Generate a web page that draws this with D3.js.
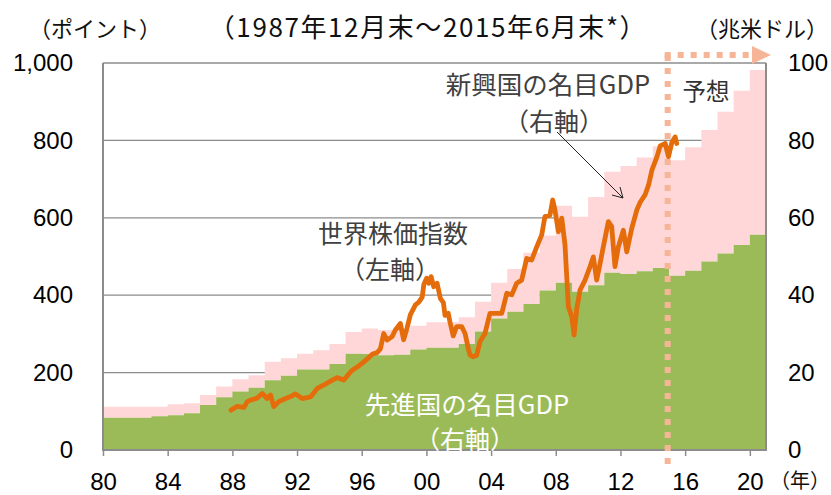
<!DOCTYPE html>
<html>
<head>
<meta charset="utf-8">
<script src="https://cdn.jsdelivr.net/npm/d3@7/dist/d3.min.js"></script>
<style>
  html, body { margin: 0; padding: 0; background: #fff; }
  svg { display: block; }
  text { font-family: "Liberation Sans", Arial, "Noto Sans CJK JP", sans-serif; }
  .jp { font-family: "Noto Sans CJK JP", "Liberation Sans", sans-serif; }
</style>
</head>
<body>
<svg id="chart" width="831" height="495"></svg>
<script>
// ---- data ----
const years = d3.range(1980, 2021);
// advanced economies nominal GDP (trillion USD, right axis)
const advancedGDP = [8.35, 8.35, 8.35, 8.7, 9.0, 9.5, 11.6, 13.6, 15.1, 16.1,
  18.0, 19.2, 20.8, 20.8, 22.2, 24.9, 24.8, 24.5, 24.6, 26.0,
  26.4, 26.4, 27.4, 30.6, 34.0, 35.7, 37.7, 41.2, 43.2, 40.9,
  42.6, 45.8, 45.5, 46.2, 47.0, 45.0, 46.3, 48.7, 50.8, 53.0, 55.6];
// emerging economies nominal GDP (trillion USD, right axis, stacked)
const emergingGDP = [2.85, 2.85, 2.85, 2.5, 2.8, 2.6, 2.6, 2.8, 3.2, 3.2,
  4.8, 4.5, 4.1, 5.0, 5.2, 5.6, 6.6, 6.5, 6.4, 6.1,
  6.6, 6.6, 6.9, 7.7, 9.2, 11.1, 13.3, 14.2, 19.9, 19.4,
  22.8, 26.1, 27.9, 29.4, 31.5, 29.9, 31.9, 34.0, 36.6, 39.8, 42.6];
// world stock index (points, left axis): decimal year, value
const stockDates = [1987.92, 1988.30, 1988.71, 1988.92, 1989.12, 1989.53, 1989.85, 1990.15, 1990.36, 1990.56,
  1990.87, 1991.29, 1991.60, 1991.90, 1992.32, 1992.83, 1993.25, 1993.66, 1994.07, 1994.48,
  1994.89, 1995.37, 1995.74, 1996.13, 1996.36, 1996.67, 1996.96, 1997.16, 1997.36, 1997.57,
  1997.88, 1998.08, 1998.39, 1998.59, 1998.80, 1999.01, 1999.32, 1999.53, 1999.74, 1999.84,
  2000.01, 2000.15, 2000.29, 2000.45, 2000.66, 2000.86, 2001.05, 2001.15, 2001.35, 2001.46,
  2001.66, 2001.87, 2002.18, 2002.39, 2002.59, 2002.70, 2002.88, 2003.11, 2003.31, 2003.62,
  2003.93, 2004.35, 2004.66, 2004.97, 2005.28, 2005.58, 2005.89, 2006.20, 2006.51, 2006.82,
  2007.13, 2007.33, 2007.64, 2007.81, 2007.95, 2008.16, 2008.37, 2008.57, 2008.78, 2008.99,
  2009.13, 2009.30, 2009.50, 2009.81, 2010.12, 2010.32, 2010.53, 2010.74, 2010.94, 2011.25,
  2011.46, 2011.66, 2011.87, 2012.18, 2012.39, 2012.70, 2013.01, 2013.22, 2013.53, 2013.74,
  2013.95, 2014.26, 2014.46, 2014.77, 2014.97, 2015.18, 2015.38, 2015.48];
const stockValues = [103, 113, 110, 125, 129, 134, 146, 133, 142, 112,
  125, 133, 138, 145, 133, 137, 159, 168, 178, 187,
  181, 205, 215, 228, 236, 248, 252, 262, 301, 284,
  293, 310, 327, 285, 315, 350, 375, 382, 395, 428,
  444, 431, 448, 422, 431, 392, 381, 348, 353, 330,
  295, 319, 319, 301, 262, 245, 241, 245, 280, 301,
  353, 353, 353, 405, 401, 431, 439, 495, 491, 525,
  556, 603, 607, 646, 620, 564, 599, 530, 370, 344,
  297, 366, 413, 439, 474, 499, 439, 482, 525, 590,
  577, 474, 525, 568, 512, 573, 620, 640, 660, 685,
  724, 758, 786, 792, 758, 795, 809, 792];
const forecastStart = 2014.92;
const xTicks = [1980, 1984, 1988, 1992, 1996, 2000, 2004, 2008, 2012, 2016, 2020];
const xTickLabels = ["80", "84", "88", "92", "96", "00", "04", "08", "12", "16", "20"];
const leftTicks = [0, 200, 400, 600, 800, 1000];
const leftTickLabels = ["0", "200", "400", "600", "800", "1,000"];
const rightTicks = [0, 20, 40, 60, 80, 100];

// ---- layout ----
const svg = d3.select("#chart");
const L = 103, R = 766, T = 63, B = 450;
const x = d3.scaleLinear().domain([1980, 2021]).range([L, R]);
const yL = d3.scaleLinear().domain([0, 1000]).range([B, T]);
const yR = d3.scaleLinear().domain([0, 100]).range([B, T]);
const numFont = "Liberation Sans, Arial, sans-serif";

// gridlines
svg.append("g").selectAll("line").data(leftTicks.filter(d => d > 0)).join("line")
  .attr("x1", L).attr("x2", R).attr("y1", d => yL(d)).attr("y2", d => yL(d))
  .attr("stroke", "#8c8c8c").attr("stroke-width", 1.3);

// stacked step areas
const rows = years.map((yr, i) => ({ yr, a: advancedGDP[i], e: emergingGDP[i] }));
rows.push({ yr: 2021, a: advancedGDP[advancedGDP.length - 1], e: emergingGDP[emergingGDP.length - 1] });

svg.append("path").datum(rows)
  .attr("fill", "#ffd7d8")
  .attr("d", d3.area().curve(d3.curveStepAfter)
    .x(d => x(d.yr)).y0(d => yR(d.a)).y1(d => yR(d.a + d.e)));
svg.append("path").datum(rows)
  .attr("fill", "#9bbb59")
  .attr("d", d3.area().curve(d3.curveStepAfter)
    .x(d => x(d.yr)).y0(yR(0)).y1(d => yR(d.a)));

// axes frame
const axisColor = "#8c8c8c";
svg.append("line").attr("x1", L).attr("x2", L).attr("y1", T).attr("y2", B)
  .attr("stroke", axisColor).attr("stroke-width", 2);
svg.append("line").attr("x1", R).attr("x2", R).attr("y1", T).attr("y2", B)
  .attr("stroke", axisColor).attr("stroke-width", 2);
svg.append("line").attr("x1", L - 1).attr("x2", R + 1).attr("y1", B).attr("y2", B)
  .attr("stroke", axisColor).attr("stroke-width", 2);

// bottom axis ticks & labels
const xAxis = d3.axisBottom(x).tickValues(xTicks)
  .tickFormat((d, i) => xTickLabels[i]).tickSize(6).tickSizeOuter(0);
const gx = svg.append("g").attr("transform", `translate(0,${B})`).call(xAxis);
gx.select(".domain").remove();
gx.selectAll(".tick line").attr("stroke", axisColor).attr("stroke-width", 1.5);
gx.selectAll(".tick text").attr("font-size", 24).attr("fill", "#000")
  .attr("font-family", numFont).attr("dy", 31);

// left labels
const yAxisL = d3.axisLeft(yL).tickValues(leftTicks)
  .tickFormat((d, i) => leftTickLabels[i]).tickSize(0).tickPadding(30);
const gl = svg.append("g").attr("transform", `translate(${L},0)`).call(yAxisL);
gl.select(".domain").remove();
gl.selectAll(".tick text").attr("font-size", 24).attr("fill", "#000")
  .attr("font-family", numFont);

// right labels
const yAxisR = d3.axisRight(yR).tickValues(rightTicks).tickSize(0).tickPadding(22);
const gr = svg.append("g").attr("transform", `translate(${R},0)`).call(yAxisR);
gr.select(".domain").remove();
gr.selectAll(".tick text").attr("font-size", 24).attr("fill", "#000")
  .attr("font-family", numFont);

// forecast dotted line & arrow
const dashColor = "#f5b596";
const fx = x(forecastStart);
svg.append("line").attr("x1", fx).attr("x2", fx).attr("y1", 55).attr("y2", 468)
  .attr("stroke", dashColor).attr("stroke-width", 6).attr("stroke-dasharray", "6,7");
svg.append("line").attr("x1", fx - 3).attr("x2", 753).attr("y1", 55).attr("y2", 55)
  .attr("stroke", dashColor).attr("stroke-width", 6).attr("stroke-dasharray", "6,7");
svg.append("path").attr("d", "M752,46 L771,55 L752,64 Z").attr("fill", dashColor);

// stock index line
const pts = stockDates.map((t, i) => [t, stockValues[i]]);
svg.append("path").datum(pts)
  .attr("fill", "none").attr("stroke", "#e46c0a").attr("stroke-width", 4.8)
  .attr("stroke-linejoin", "round").attr("stroke-linecap", "round")
  .attr("d", d3.line().x(d => x(d[0])).y(d => yL(d[1])));

// annotation arrow
svg.append("line").attr("x1", 557).attr("y1", 132).attr("x2", 623).attr("y2", 198)
  .attr("stroke", "#222").attr("stroke-width", 1);
svg.append("path").attr("d", "M612,195 L623,198 L620,187")
  .attr("fill", "none").attr("stroke", "#222").attr("stroke-width", 1);

// texts
function txt(s, xx, yy, opts = {}) {
  return svg.append("text").attr("class", "jp").attr("x", xx).attr("y", yy)
    .attr("text-anchor", opts.anchor || "middle")
    .attr("dominant-baseline", "central")
    .attr("font-size", opts.size || 23)
    .attr("fill", opts.fill || "#333")
    .attr("letter-spacing", opts.ls || 0)
    .text(s);
}
txt("（ポイント）", 95, 27, { size: 22, fill: "#111" });
txt("（1987年12月末～2015年6月末*）", 428, 25, { size: 26, fill: "#111", ls: 1.6 });
txt("（兆米ドル）", 762, 27, { size: 22, fill: "#111" });
txt("（年）", 830, 479, { size: 20, fill: "#111", anchor: "end" });
txt("予想", 706, 90, { size: 23.5, fill: "#333" });
txt("新興国の名目GDP", 548, 82, { size: 25.5, fill: "#404040" });
txt("（右軸）", 554, 120, { size: 25, fill: "#404040" });
txt("世界株価指数", 393, 232, { size: 25, fill: "#404040" });
txt("（左軸）", 390, 268, { size: 25, fill: "#404040" });
txt("先進国の名目GDP", 467, 402, { size: 25.5, fill: "#fff" });
txt("（右軸）", 465, 438, { size: 25, fill: "#fff" });
</script>
</body>
</html>
